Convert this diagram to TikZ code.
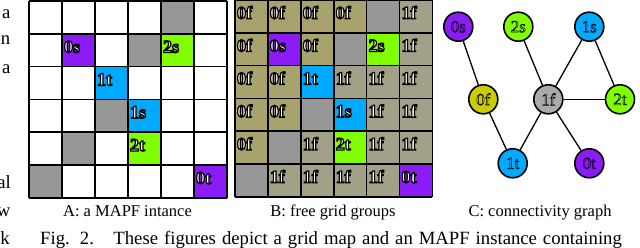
\documentclass[tikz,border=0pt]{standalone}
\usepackage{fontspec}
\setmainfont{Liberation Serif}
\definecolor{cpur}{HTML}{8B1CF7}
\definecolor{cgrn}{HTML}{7FFF00}
\definecolor{cblu}{HTML}{00AAFF}
\definecolor{cgry}{HTML}{979797}
\definecolor{colv}{HTML}{A8A26C}
\definecolor{ckha}{HTML}{A3A088}
\definecolor{cyel}{HTML}{CCCC00}
\definecolor{cngr}{HTML}{AAAAAA}
% outlined text: fill colour #1, black stroke of width #2, text #3
\newcommand\myoutl[3]{{\color{#1}\special{pdf:literal direct 0 G #2 w 2 Tr}#3\special{pdf:literal direct 0 Tr 0.4 w}}}
\tikzset{
  gridline/.style={line width=1.6pt, black},
  celllbl/.style={anchor=base west, inner sep=0pt, font=\fontsize{18}{18}\selectfont\bfseries},
  gnode/.style={circle, draw=black, line width=1.6pt, minimum size=29pt, inner sep=0pt, font=\fontsize{17}{17}\selectfont},
  gedge/.style={line width=1.3pt, black},
  subcap/.style={anchor=base, inner sep=0pt, font=\fontsize{16.5}{16.5}\selectfont},
  bodytxt/.style={inner sep=0pt, font=\fontsize{18.7}{18.7}\selectfont},
}
\begin{document}
\begin{tikzpicture}[x=1pt,y=-1pt]
\useasboundingbox (0,0) rectangle (640,248);
\clip (0,0) rectangle (640,248);
\fill[white] (0,0) rectangle (640,248);

% ---------- Grid A ----------
\fill[white] (29,1) rectangle (227,197.8);
\foreach \c/\r/\col in {4/0/cgry, 3/1/cgry, 2/3/cgry, 1/4/cgry, 0/5/cgry,
  1/1/cpur, 4/1/cgrn, 2/2/cblu, 3/3/cblu, 3/4/cgrn, 5/5/cpur}
  \fill[\col] ({29+\c*33},{1+\r*32.8}) rectangle ++(33,32.8);
\foreach \c/\r/\t in {1/1/0s, 4/1/2s, 2/2/1t, 3/3/1s, 3/4/2t, 5/5/0t}
  \node[celllbl] (a\c\r) at ({29+\c*33+1.8},{1+\r*32.8+18.8}) {\myoutl{white}{1.2}{\t}};
\foreach \i in {0,...,6} {
  \draw[gridline] ({29+\i*33},1) -- ++(0,196.8);
  \draw[gridline] (29,{1+\i*32.8}) -- ++(198,0);
}

% ---------- Grid B ----------
\foreach \r/\cells in {
  0/{colv/0f,colv/0f,colv/0f,colv/0f,cgry/,ckha/1f},
  1/{colv/0f,cpur/0s,colv/0f,cgry/,cgrn/2s,ckha/1f},
  2/{colv/0f,colv/0f,cblu/1t,ckha/1f,ckha/1f,ckha/1f},
  3/{colv/0f,colv/0f,cgry/,cblu/1s,ckha/1f,ckha/1f},
  4/{colv/0f,cgry/,ckha/1f,cgrn/2t,ckha/1f,ckha/1f},
  5/{cgry/,ckha/1f,ckha/1f,ckha/1f,ckha/1f,cpur/0t}} {
  \foreach \col/\t [count=\c from 0] in \cells {
    \fill[\col] ({235+\c*32.9},{\r*32.8}) rectangle ++(32.9,32.8);
    \node[celllbl] (b\c\r) at ({235+\c*32.9+1.8},{\r*32.8+18.8}) {\myoutl{white}{1.2}{\t}};
  }
}
\foreach \i in {0,...,6} {
  \draw[gridline] ({235+\i*32.9},0) -- ++(0,196.8);
  \draw[gridline] (235,{\i*32.8}) -- ++(197.4,0);
}

% ---------- Graph C ----------
\node[gnode, fill=cpur] (n0s) at (458.3,26.7) {\myoutl{cpur}{0.5}{0s}};
\node[gnode, fill=cgrn] (n2s) at (518.3,26.7) {\myoutl{cgrn}{0.5}{2s}};
\node[gnode, fill=cblu] (n1s) at (589.3,26.7) {\myoutl{cblu}{0.5}{1s}};
\node[gnode, fill=cyel] (n0f) at (483.3,99.3) {\myoutl{cyel}{0.5}{0f}};
\node[gnode, fill=cngr] (n1f) at (548.3,99.3) {\myoutl{cngr}{0.5}{1f}};
\node[gnode, fill=cgrn] (n2t) at (620,99.3) {\myoutl{cgrn}{0.5}{2t}};
\node[gnode, fill=cblu] (n1t) at (512.7,163.3) {\myoutl{cblu}{0.5}{1t}};
\node[gnode, fill=cpur] (n0t) at (589.3,163.3) {\myoutl{cpur}{0.5}{0t}};
\draw[gedge] (n0s) -- (n0f);
\draw[gedge] (n0f) -- (n1t);
\draw[gedge] (n2s) -- (n1f);
\draw[gedge] (n1s) -- (n1f);
\draw[gedge] (n1s) -- (n2t);
\draw[gedge] (n1f) -- (n2t);
\draw[gedge] (n1f) -- (n1t);
\draw[gedge] (n1f) -- (n0t);

% ---------- captions ----------
\node[subcap] (capa) at (127.5,216.7) {A: a MAPF intance};
\node[subcap] (capb) at (333,216.7) {B: free grid groups};
\node[subcap] (capc) at (540,216.7) {C: connectivity graph};
\node[bodytxt, anchor=base west] (figcap) at (40,244)
  {\makebox[581.7pt][s]{Fig. 2.\hspace{0.5em} These figures depict a grid map and an MAPF instance containing}};

% ---------- left column fragments ----------
\node[bodytxt, anchor=base east] (m1) at (10.5,18.3) {a};
\node[bodytxt, anchor=base east] (m2) at (10.5,45) {n};
\node[bodytxt, anchor=base east] (m3) at (10.5,73.3) {a};
\node[bodytxt, anchor=base east] (m4) at (11,189) {al};
\node[bodytxt, anchor=base east] (m5) at (10.5,216.7) {w};
\node[bodytxt, anchor=base east] (m6) at (10,244) {k};
\end{tikzpicture}
\end{document}
